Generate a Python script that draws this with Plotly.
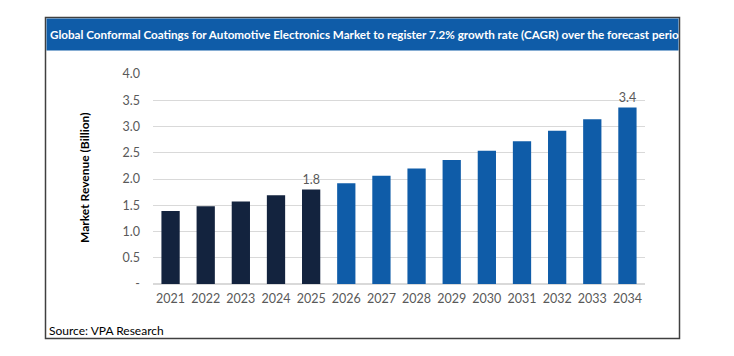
import plotly.graph_objects as go

years = ["2021", "2022", "2023", "2024", "2025", "2026", "2027", "2028", "2029", "2030", "2031", "2032", "2033", "2034"]
revenue = [1.39, 1.48, 1.57, 1.69, 1.80, 1.92, 2.06, 2.20, 2.36, 2.54, 2.72, 2.92, 3.14, 3.36]
labels = ["", "", "", "", "1.8", "", "", "", "", "", "", "", "", "3.4"]
last_actual_year = "2025"
ytick_vals = [0, 0.5, 1.0, 1.5, 2.0, 2.5, 3.0, 3.5, 4.0]
ytick_text = ["-", "0.5", "1.0", "1.5", "2.0", "2.5", "3.0", "3.5", "4.0"]
title_text = "Global Conformal Coatings for Automotive Electronics Market to register 7.2% growth rate (CAGR) over the forecast perio"
source_text = "Source: VPA Research"
ytitle = "Market Revenue (Billion)"

# page has an 8px body margin; work in page pixels and shift
OFF = 8
W, H = 734 - OFF, 356 - OFF
L, R, T, B = 153 - OFF, 645 - OFF, 74 - OFF, 284 - OFF

def px(x):
    return (x - OFF - L) / (R - L)

def py(y):
    return (B - (y - OFF)) / (B - T)

dark = "#13233e"
blue = "#0f5ca8"
colors = [dark if int(y) <= int(last_actual_year) else blue for y in years]

fig = go.Figure()
fig.add_trace(go.Bar(
    x=years, y=revenue, marker=dict(color=colors, line=dict(width=0)),
    width=0.52, text=labels, textposition="outside",
    textfont=dict(family="Lato", size=12.5, color="#595959"),
    cliponaxis=False, hoverinfo="skip",
))

shapes = [
    dict(type="rect", xref="paper", yref="paper", x0=px(45.5), x1=px(679.5), y0=py(17.5), y1=py(338.5),
         fillcolor="white", line=dict(color="#404040", width=1.5), layer="below"),
    dict(type="rect", xref="paper", yref="paper", x0=px(46.5), x1=px(678.5), y0=py(18.5), y1=py(50.5),
         fillcolor=blue, line=dict(width=0), layer="below"),
]

annotations = [
    dict(text=title_text, xref="paper", yref="paper", x=px(48), y=py(34), xanchor="left", yanchor="middle",
         showarrow=False, font=dict(family="Lato", size=11.65, color="white", weight="bold")),
    dict(text=source_text, xref="paper", yref="paper", x=px(47), y=py(330), xanchor="left", yanchor="middle",
         showarrow=False, font=dict(family="Lato", size=12, color="black")),
    dict(text=ytitle, xref="paper", yref="paper", x=px(84), y=py(178), xanchor="center", yanchor="middle",
         textangle=-90, showarrow=False, font=dict(family="Lato", size=12, color="black", weight="bold")),
]

fig.update_layout(
    width=W, height=H,
    margin=dict(l=L, r=W - R, t=T, b=H - B, pad=0),
    paper_bgcolor="white", plot_bgcolor="white",
    showlegend=False,
    shapes=shapes, annotations=annotations,
    font=dict(family="Lato", size=12, color="#595959"),
)
fig.update_xaxes(showgrid=False, showline=False, ticks="", tickfont=dict(size=12.5, color="#595959"),
                 ticklabelstandoff=5)
fig.update_yaxes(range=[0, 4.0], tickvals=ytick_vals, ticktext=ytick_text, showgrid=True,
                 gridcolor="#d9d9d9", gridwidth=1, zeroline=True, zerolinecolor="#d9d9d9",
                 showline=False, ticks="", tickfont=dict(size=12.5, color="#595959"),
                 ticklabelstandoff=12)

fig.write_html("out.html")
